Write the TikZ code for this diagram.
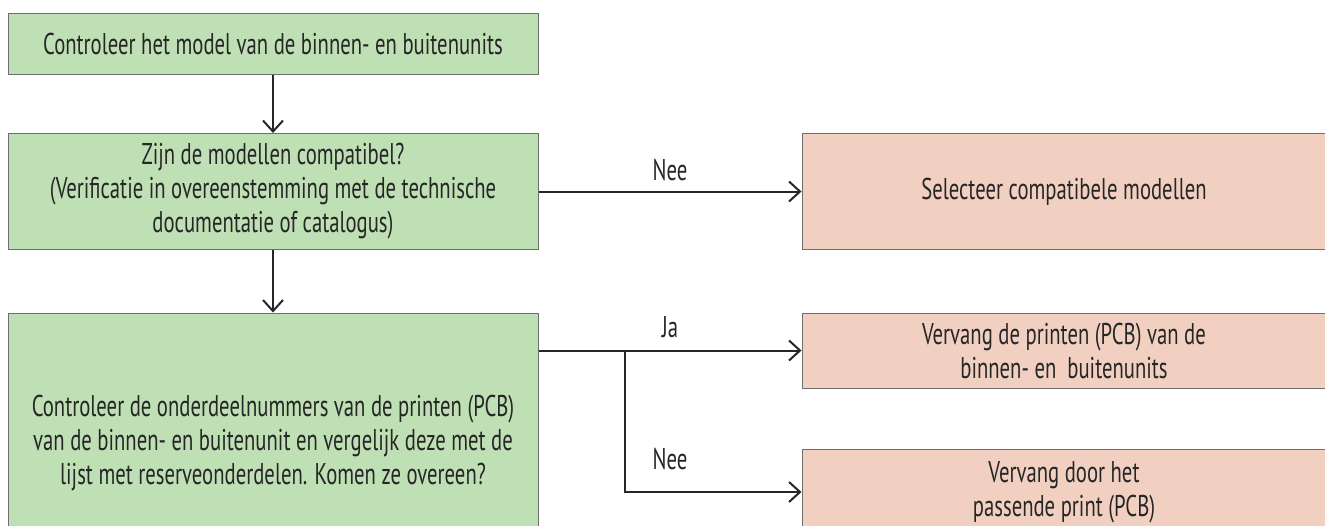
\documentclass[tikz,border=0pt]{standalone}
\usepackage{fontspec}
\setmainfont{PT Sans}[FakeStretch=0.69]
\usetikzlibrary{arrows.meta}
\definecolor{boxgreen}{HTML}{BFDFB5}
\definecolor{boxpink}{HTML}{F2D0C1}
\definecolor{edgegray}{HTML}{6E6E6E}
\definecolor{ink}{HTML}{262626}
\tikzset{
  box/.style={draw=edgegray, line width=1pt, align=center, text=ink, inner sep=0pt},
  gbox/.style={box, fill=boxgreen, minimum width=530pt},
  pbox/.style={box, fill=boxpink, minimum width=524pt},
  conn/.style={draw=ink, line width=2pt, -{Straight Barb[length=11pt,width=20pt,line width=2pt]}},
  lbl/.style={text=ink, inner sep=0pt},
}
\begin{document}
\begin{tikzpicture}[x=1pt,y=-1pt,font=\fontsize{30}{34}\selectfont]
\path[use as bounding box, clip] (0,0) rectangle (1325,525);
\fill[white] (0,0) rectangle (1325,525);
\node[gbox, minimum height=61pt] (b1) at (273,43.5) {Controleer het model van de binnen- en buitenunits};
\node[gbox, minimum height=116pt] (b2) at (273,191.5) {Zijn de modellen compatibel?\\(Verificatie in overeenstemming met de technische\\documentatie of catalogus)};
\node[gbox, minimum height=260pt] (b3) at (273,443) {Controleer de onderdeelnummers van de printen (PCB)\\van de binnen- en buitenunit en vergelijk deze met de\\lijst met reserveonderdelen. Komen ze overeen?};
\node[pbox, minimum height=116pt] (r1) at (1064,191.5) {Selecteer compatibele modellen};
\node[pbox, minimum height=75pt] (r2) at (1064,350.5) {Vervang de printen (PCB) van de\\binnen- en\ \ buitenunits};
\node[pbox, minimum height=86pt] (r3) at (1064,492) {Vervang door het\\passende print (PCB)};
\draw[conn] (b1) -- (b2);
\draw[conn] (b2) -- (b3);
\draw[conn] (b2) -- node[lbl, above=10pt] (n1) {Nee} (r1);
\coordinate (s3) at (b3.east |- r2.west);
\coordinate (br) at (625,350.5);
\draw[conn] (s3) -- (r2.west);
\node[lbl] (ja) at (670,327) {Ja};
\draw[conn] (br) |- (r3.west);
\node[lbl] (n2) at (670,459) {Nee};
\end{tikzpicture}
\end{document}
